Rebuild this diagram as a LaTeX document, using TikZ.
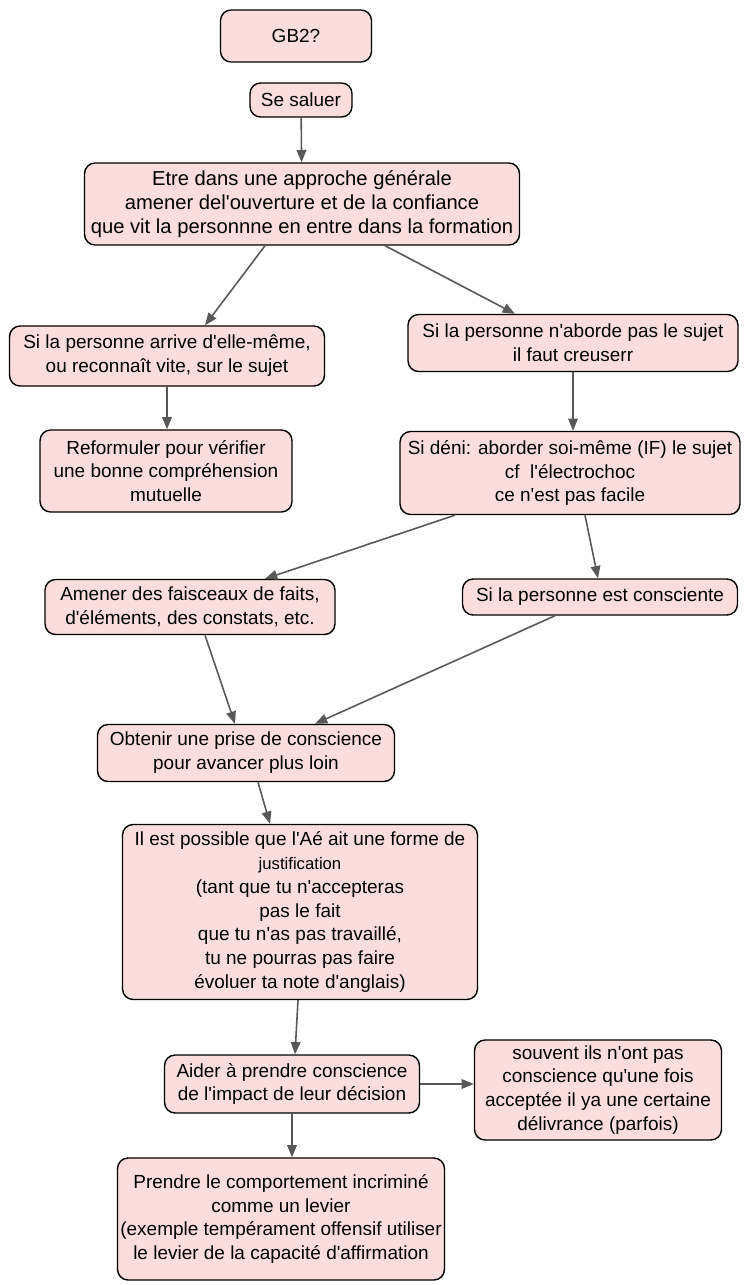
\documentclass[tikz,border=0pt]{standalone}
\usepackage{fontspec}
\setmainfont{Liberation Sans}[Ligatures=TeXOff]
\usepackage{xcolor}
\usetikzlibrary{arrows.meta, calc}
\definecolor{rose}{RGB}{252,221,221}
\definecolor{gris}{RGB}{88,88,88}

\begin{document}
\begin{tikzpicture}[x=0.02cm, y=-0.02cm, >={Triangle[length=7pt, width=5.5pt]}]
    \tikzstyle{etape} = [draw, line width=0.8pt, rounded corners=6pt, fill=rose, align=center, inner sep=1pt, font=\fontsize{10.8}{13.6}\selectfont]
    \tikzstyle{fleche} = [->, gris, line width=0.9pt]
    \useasboundingbox (0,0) rectangle (746,1285);

    % Haut
    \node[etape, minimum width=3.02cm, minimum height=1.04cm] (gb) at (296,36) {GB2?};
    \node[etape, minimum width=2.04cm, minimum height=0.68cm] (saluer) at (301,100) {Se saluer};
    \node[etape, minimum width=8.7cm, minimum height=1.64cm, font=\fontsize{11.5}{13.6}\selectfont] (approche) at (302,204) {Etre dans une approche générale\\amener del'ouverture et de la confiance\\que vit la personnne en entre dans la formation};
    \draw[fleche] (saluer) -- (approche);

    % Branche gauche
    \node[etape, minimum width=6.3cm, minimum height=1.2cm] (arrive) at (167,356) {Si la personne arrive d'elle-même,\\ou reconnaît vite, sur le sujet};
    \node[etape, minimum width=5.04cm, minimum height=1.64cm] (reformuler) at (166,471) {Reformuler pour vérifier\\une bonne compréhension\\mutuelle};
    \draw[fleche] ($(approche.south)+(-37,0)$) -- ($(arrive.north)+(38,0)$);
    \draw[fleche] (arrive.south) -- (arrive.south |- reformuler.north);

    % Branche droite
    \node[etape, minimum width=6.6cm, minimum height=1.14cm] (aborde) at (573,343) {Si la personne n'aborde pas le sujet\\il faut creuserr};
    \node[etape, minimum width=6.8cm, minimum height=1.66cm] (deni) at (570,473) {Si déni: aborder soi-même (IF) le sujet\\cf \ l'électrochoc\\ce n'est pas facile};
    \draw[fleche] ($(approche.south)+(83,0)$) -- ($(aborde.north)+(-58,0)$);
    \draw[fleche] (aborde.south) -- (aborde.south |- deni.north);

    % Faits ou conscience
    \node[etape, minimum width=5.8cm, minimum height=1.1cm] (faits) at (190,607) {Amener des faisceaux de faits,\\d'éléments, des constats, etc.};
    \node[etape, minimum width=5.5cm, minimum height=0.72cm] (consciente) at (600,597) {Si la personne est consciente};
    \draw[fleche] ($(deni.south)+(-115,0)$) -- ($(faits.north)+(75,0)$);
    \draw[fleche] ($(deni.south)+(15,0)$) -- ($(consciente.north)+(-2,0)$);

    % Prise de conscience
    \node[etape, minimum width=5.94cm, minimum height=1.14cm] (obtenir) at (246,753) {Obtenir une prise de conscience\\pour avancer plus loin};
    \draw[fleche] ($(faits.south)+(15,0)$) -- ($(obtenir.north)+(-11,0)$);
    \draw[fleche] ($(consciente.south)+(-45,0)$) -- ($(obtenir.north)+(69,0)$);

    \node[etape, minimum width=7.1cm, minimum height=3.5cm] (justif) at (300,912) {Il est possible que l'Aé ait une forme de\\{\fontsize{9.5}{13.6}\selectfont justification}\\(tant que tu n'accepteras\\pas le fait\\que tu n'as pas travaillé,\\tu ne pourras pas faire\\évoluer ta note d'anglais)};
    \draw[fleche] ($(obtenir.south)+(12,0)$) -- ($(justif.north)+(-30,0)$);

    % Bas
    \node[etape, minimum width=5.1cm, minimum height=1.16cm] (aider) at (292,1084) {Aider à prendre conscience\\de l'impact de leur décision};
    \node[etape, minimum width=4.94cm, minimum height=2.0cm] (souvent) at (598,1090) {souvent ils n'ont pas\\conscience qu'une fois\\acceptée il ya une certaine\\délivrance (parfois)};
    \node[etape, minimum width=6.54cm, minimum height=2.44cm] (levier) at (281,1219) {Prendre le comportement incriminé\\comme un levier\\(exemple tempérament offensif utiliser\\le levier de la capacité d'affirmation};
    \draw[fleche] ($(justif.south)+(-2,0)$) -- ($(aider.north)+(3,0)$);
    \draw[fleche] (aider.east) -- (aider.east -| souvent.west);
    \draw[fleche] (aider.south) -- (aider.south |- levier.north);
\end{tikzpicture}
\end{document}
